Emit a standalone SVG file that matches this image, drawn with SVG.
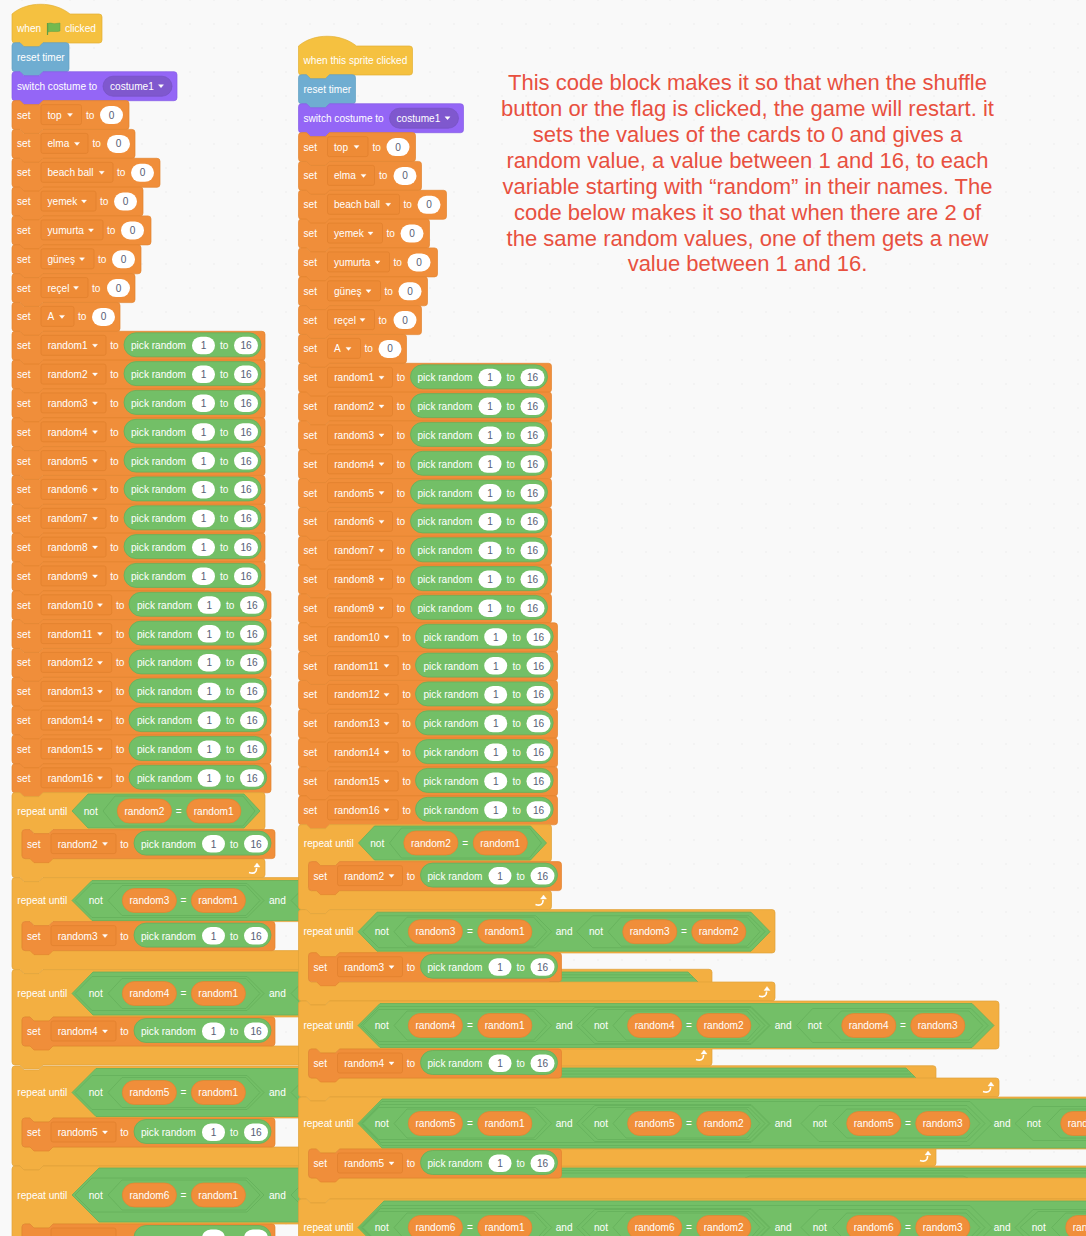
<svg xmlns="http://www.w3.org/2000/svg" width="1086" height="1236" viewBox="0 0 1086 1236">
<style>
text{font-family:"Liberation Sans",Arial,sans-serif;font-size:10.1px;fill:#fff}
.n{fill:#575E75;text-anchor:middle}
.m{text-anchor:middle}
.note{font-size:22px;fill:#E8503F;text-anchor:middle}
.o{fill:#F08E3A;stroke:#E2842F;stroke-width:.7}
.c{fill:#F3AF41;stroke:#E0A239;stroke-width:.7}
.y{fill:#F5C140;stroke:#E3B033;stroke-width:.7}
.b{fill:#6FADD1;stroke:#62A0C3;stroke-width:.7}
.u{fill:#9466F6;stroke:#855CE6;stroke-width:.7}
.pp{fill:#7F58CE;stroke:#7652C2;stroke-width:.7}
.dd{fill:#EE8B36;stroke:#DF7F2D;stroke-width:.7}
.g{fill:#73BF67;stroke:#65B05B;stroke-width:.8}
.gl{fill:none;stroke:#65B05B;stroke-width:.8}
.w{fill:#fff}
.p{fill:#F08E3A;stroke:#E2842F;stroke-width:.7}
.a{fill:#fff;stroke:#fff;stroke-width:.4;stroke-linejoin:round}
.lp{fill:none;stroke:#fff;stroke-width:1.6}
</style>
<defs>
<pattern id="dots" x="0" y="-12" width="24" height="24" patternUnits="userSpaceOnUse"><rect x="21.5" y="11.5" width="1" height="1" fill="#DDD"/></pattern>
<g id="r9"><path class="o" d="M0 3Q0 0 3 0H8l4 4h15l4-4H250q3 0 3 3v23q0 3-3 3H31l-4 4H12l-4-4H3q-3 0-3-3z"/><rect class="dd" x="29" y="4" width="65" height="20" rx="2"/><path class="a" d="M80.5 13h5l-2.5 3z"/><rect class="g" x="112" y="1.5" width="137" height="24" rx="12"/><rect class="w" x="180" y="5.5" width="23" height="17.5" rx="8.75"/><rect class="w" x="222" y="5.5" width="24" height="17.5" rx="8.75"/></g>
<g id="r16"><path class="o" d="M0 3Q0 0 3 0H8l4 4h15l4-4H256q3 0 3 3v23q0 3-3 3H31l-4 4H12l-4-4H3q-3 0-3-3z"/><rect class="dd" x="29" y="4" width="70.7" height="20" rx="2"/><path class="a" d="M85.5 13h5l-2.5 3z"/><rect class="g" x="117" y="1.5" width="137.7" height="24" rx="12"/><rect class="w" x="185.7" y="5.5" width="23" height="17.5" rx="8.75"/><rect class="w" x="228" y="5.5" width="24" height="17.5" rx="8.75"/></g>
<rect id="pl" class="p" x="0" y="-12" width="54.2" height="24" rx="12"/>
<g id="loop"><path class="lp" d="M-5 3.5c3 1 6 .5 7-1.5l.7-3"/><path class="a" d="M3-6l3 4h-6z"/></g>
<path id="hA" class="g" d="M75 0l17-17H247l17 17-17 17H92z"/>
<path id="hE" class="g" d="M108 0l14-15H246l14 15-14 15H122z"/>
<path id="hB" class="g" d="M362.7 0l16-16H535.7l16 16-16 16H378.7z"/>
<path id="hF" class="g" d="M394 0l13-14.5H533.7l13 14.5-13 14.5H407z"/>
<path id="hC" class="g" d="M576.7 0l18-18H751l18 18-18 18H594.7z"/>
<path id="hD" class="g" d="M581.7 0l16-16H749l16 16-16 16H597.7z"/>
<path id="hG" class="g" d="M613 0l13-14.5H747l13 14.5-13 14.5H626z"/>
</defs>
<rect id="workspace" width="1086" height="1236" fill="#F9F9F9"/>
<rect id="grid" width="1086" height="1236" fill="url(#dots)"/>

<g id="left-stack">
<g id="l-hat" transform="translate(12 14)"><path class="y" d="M0 0C15-13 42-13 58 0H87q3 0 3 3v23q0 3-3 3H31l-4 4H12l-4-4H3q-3 0-3-3z"/><text x="5" y="18">when</text><path d="M35.5 9v12" stroke="#5E9F45" stroke-width="1.2"/><path d="M36 9.5c3-1.5 5 1 8 0l4-.5v8c-4 1.5-8-.5-12 1z" fill="#74B94F" stroke="#5E9F45" stroke-width=".5"/><text x="53" y="18">clicked</text></g>
<g id="l-reset" transform="translate(12 42.7)"><path class="b" d="M0 3Q0 0 3 0H8l4 4h15l4-4H54q3 0 3 3v23q0 3-3 3H31l-4 4H12l-4-4H3q-3 0-3-3z"/><text x="5" y="18">reset timer</text></g>
<g id="l-switch" transform="translate(12 71.7)"><path class="u" d="M0 3Q0 0 3 0H8l4 4h15l4-4H162q3 0 3 3v23q0 3-3 3H31l-4 4H12l-4-4H3q-3 0-3-3z"/><text x="5" y="18">switch costume to</text><rect class="pp" x="91" y="4.5" width="69" height="20" rx="10"/><text x="98" y="18">costume1</text><path class="a" d="M146.5 13h5l-2.5 3z"/></g>
<g id="l-top" transform="translate(12 100.6)"><path class="o" d="M0 3Q0 0 3 0H8l4 4h15l4-4H114q3 0 3 3v23q0 3-3 3H31l-4 4H12l-4-4H3q-3 0-3-3z"/><text x="5" y="18">set</text><rect class="dd" x="29" y="4" width="40.5" height="20" rx="2"/><text x="35.5" y="18">top</text><path class="a" d="M55.5 13h5l-2.5 3z"/><text x="74" y="18">to</text><rect class="w" x="88" y="5.5" width="23" height="18" rx="9"/><text class="n" x="99.5" y="18">0</text></g>
<g id="l-elma" transform="translate(12 129.4)"><path class="o" d="M0 3Q0 0 3 0H8l4 4h15l4-4H120q3 0 3 3v23q0 3-3 3H31l-4 4H12l-4-4H3q-3 0-3-3z"/><text x="5" y="18">set</text><rect class="dd" x="29" y="4" width="47" height="20" rx="2"/><text x="35.5" y="18">elma</text><path class="a" d="M62.5 13h5l-2.5 3z"/><text x="80.5" y="18">to</text><rect class="w" x="95" y="5.5" width="23" height="18" rx="9"/><text class="n" x="106.5" y="18">0</text></g>
<g id="l-beach" transform="translate(12 158.3)"><path class="o" d="M0 3Q0 0 3 0H8l4 4h15l4-4H145q3 0 3 3v23q0 3-3 3H31l-4 4H12l-4-4H3q-3 0-3-3z"/><text x="5" y="18">set</text><rect class="dd" x="29" y="4" width="72" height="20" rx="2"/><text x="35.5" y="18">beach ball</text><path class="a" d="M87.2 13h5l-2.5 3z"/><text x="105" y="18">to</text><rect class="w" x="119" y="5.5" width="23" height="18" rx="9"/><text class="n" x="130.5" y="18">0</text></g>
<g id="l-yemek" transform="translate(12 187.1)"><path class="o" d="M0 3Q0 0 3 0H8l4 4h15l4-4H128q3 0 3 3v23q0 3-3 3H31l-4 4H12l-4-4H3q-3 0-3-3z"/><text x="5" y="18">set</text><rect class="dd" x="29" y="4" width="55" height="20" rx="2"/><text x="35.5" y="18">yemek</text><path class="a" d="M69.5 13h5l-2.5 3z"/><text x="88" y="18">to</text><rect class="w" x="102" y="5.5" width="23" height="18" rx="9"/><text class="n" x="113.5" y="18">0</text></g>
<g id="l-yumurta" transform="translate(12 215.9)"><path class="o" d="M0 3Q0 0 3 0H8l4 4h15l4-4H136q3 0 3 3v23q0 3-3 3H31l-4 4H12l-4-4H3q-3 0-3-3z"/><text x="5" y="18">set</text><rect class="dd" x="29" y="4" width="62" height="20" rx="2"/><text x="35.5" y="18">yumurta</text><path class="a" d="M76.5 13h5l-2.5 3z"/><text x="95" y="18">to</text><rect class="w" x="109" y="5.5" width="23" height="18" rx="9"/><text class="n" x="120.5" y="18">0</text></g>
<g id="l-gunes" transform="translate(12 244.8)"><path class="o" d="M0 3Q0 0 3 0H8l4 4h15l4-4H126q3 0 3 3v23q0 3-3 3H31l-4 4H12l-4-4H3q-3 0-3-3z"/><text x="5" y="18">set</text><rect class="dd" x="29" y="4" width="53" height="20" rx="2"/><text x="35.5" y="18">güneş</text><path class="a" d="M67.5 13h5l-2.5 3z"/><text x="86" y="18">to</text><rect class="w" x="100" y="5.5" width="23" height="18" rx="9"/><text class="n" x="111.5" y="18">0</text></g>
<g id="l-recel" transform="translate(12 273.6)"><path class="o" d="M0 3Q0 0 3 0H8l4 4h15l4-4H120q3 0 3 3v23q0 3-3 3H31l-4 4H12l-4-4H3q-3 0-3-3z"/><text x="5" y="18">set</text><rect class="dd" x="29" y="4" width="47" height="20" rx="2"/><text x="35.5" y="18">reçel</text><path class="a" d="M61.5 13h5l-2.5 3z"/><text x="80" y="18">to</text><rect class="w" x="95" y="5.5" width="23" height="18" rx="9"/><text class="n" x="106.5" y="18">0</text></g>
<g id="l-a" transform="translate(12 302.4)"><path class="o" d="M0 3Q0 0 3 0H8l4 4h15l4-4H105q3 0 3 3v23q0 3-3 3H31l-4 4H12l-4-4H3q-3 0-3-3z"/><text x="5" y="18">set</text><rect class="dd" x="29" y="4" width="33" height="20" rx="2"/><text x="35.5" y="18">A</text><path class="a" d="M47.5 13h5l-2.5 3z"/><text x="66" y="18">to</text><rect class="w" x="80" y="5.5" width="23" height="18" rx="9"/><text class="n" x="91.5" y="18">0</text></g>
<g id="l-random1" transform="translate(12 331.3)"><use href="#r9"/><text x="5" y="18">set</text><text x="35.7" y="18">random1</text><text x="98.3" y="18">to</text><text x="119" y="18">pick random</text><text class="n" x="191.5" y="18">1</text><text x="208" y="18">to</text><text class="n" x="234" y="18">16</text></g>
<g id="l-random2" transform="translate(12 360.1)"><use href="#r9"/><text x="5" y="18">set</text><text x="35.7" y="18">random2</text><text x="98.3" y="18">to</text><text x="119" y="18">pick random</text><text class="n" x="191.5" y="18">1</text><text x="208" y="18">to</text><text class="n" x="234" y="18">16</text></g>
<g id="l-random3" transform="translate(12 388.9)"><use href="#r9"/><text x="5" y="18">set</text><text x="35.7" y="18">random3</text><text x="98.3" y="18">to</text><text x="119" y="18">pick random</text><text class="n" x="191.5" y="18">1</text><text x="208" y="18">to</text><text class="n" x="234" y="18">16</text></g>
<g id="l-random4" transform="translate(12 417.8)"><use href="#r9"/><text x="5" y="18">set</text><text x="35.7" y="18">random4</text><text x="98.3" y="18">to</text><text x="119" y="18">pick random</text><text class="n" x="191.5" y="18">1</text><text x="208" y="18">to</text><text class="n" x="234" y="18">16</text></g>
<g id="l-random5" transform="translate(12 446.6)"><use href="#r9"/><text x="5" y="18">set</text><text x="35.7" y="18">random5</text><text x="98.3" y="18">to</text><text x="119" y="18">pick random</text><text class="n" x="191.5" y="18">1</text><text x="208" y="18">to</text><text class="n" x="234" y="18">16</text></g>
<g id="l-random6" transform="translate(12 475.4)"><use href="#r9"/><text x="5" y="18">set</text><text x="35.7" y="18">random6</text><text x="98.3" y="18">to</text><text x="119" y="18">pick random</text><text class="n" x="191.5" y="18">1</text><text x="208" y="18">to</text><text class="n" x="234" y="18">16</text></g>
<g id="l-random7" transform="translate(12 504.3)"><use href="#r9"/><text x="5" y="18">set</text><text x="35.7" y="18">random7</text><text x="98.3" y="18">to</text><text x="119" y="18">pick random</text><text class="n" x="191.5" y="18">1</text><text x="208" y="18">to</text><text class="n" x="234" y="18">16</text></g>
<g id="l-random8" transform="translate(12 533.1)"><use href="#r9"/><text x="5" y="18">set</text><text x="35.7" y="18">random8</text><text x="98.3" y="18">to</text><text x="119" y="18">pick random</text><text class="n" x="191.5" y="18">1</text><text x="208" y="18">to</text><text class="n" x="234" y="18">16</text></g>
<g id="l-random9" transform="translate(12 561.9)"><use href="#r9"/><text x="5" y="18">set</text><text x="35.7" y="18">random9</text><text x="98.3" y="18">to</text><text x="119" y="18">pick random</text><text class="n" x="191.5" y="18">1</text><text x="208" y="18">to</text><text class="n" x="234" y="18">16</text></g>
<g id="l-random10" transform="translate(12 590.8)"><use href="#r16"/><text x="5" y="18">set</text><text x="35.7" y="18">random10</text><text x="104" y="18">to</text><text x="125" y="18">pick random</text><text class="n" x="197.2" y="18">1</text><text x="214" y="18">to</text><text class="n" x="240" y="18">16</text></g>
<g id="l-random11" transform="translate(12 619.6)"><use href="#r16"/><text x="5" y="18">set</text><text x="35.7" y="18">random11</text><text x="104" y="18">to</text><text x="125" y="18">pick random</text><text class="n" x="197.2" y="18">1</text><text x="214" y="18">to</text><text class="n" x="240" y="18">16</text></g>
<g id="l-random12" transform="translate(12 648.4)"><use href="#r16"/><text x="5" y="18">set</text><text x="35.7" y="18">random12</text><text x="104" y="18">to</text><text x="125" y="18">pick random</text><text class="n" x="197.2" y="18">1</text><text x="214" y="18">to</text><text class="n" x="240" y="18">16</text></g>
<g id="l-random13" transform="translate(12 677.3)"><use href="#r16"/><text x="5" y="18">set</text><text x="35.7" y="18">random13</text><text x="104" y="18">to</text><text x="125" y="18">pick random</text><text class="n" x="197.2" y="18">1</text><text x="214" y="18">to</text><text class="n" x="240" y="18">16</text></g>
<g id="l-random14" transform="translate(12 706.1)"><use href="#r16"/><text x="5" y="18">set</text><text x="35.7" y="18">random14</text><text x="104" y="18">to</text><text x="125" y="18">pick random</text><text class="n" x="197.2" y="18">1</text><text x="214" y="18">to</text><text class="n" x="240" y="18">16</text></g>
<g id="l-random15" transform="translate(12 734.9)"><use href="#r16"/><text x="5" y="18">set</text><text x="35.7" y="18">random15</text><text x="104" y="18">to</text><text x="125" y="18">pick random</text><text class="n" x="197.2" y="18">1</text><text x="214" y="18">to</text><text class="n" x="240" y="18">16</text></g>
<g id="l-random16" transform="translate(12 763.8)"><use href="#r16"/><text x="5" y="18">set</text><text x="35.7" y="18">random16</text><text x="104" y="18">to</text><text x="125" y="18">pick random</text><text class="n" x="197.2" y="18">1</text><text x="214" y="18">to</text><text class="n" x="240" y="18">16</text></g>

<g id="l-repeat2">
<path class="c" transform="translate(12 792.6)" d="M0 3Q0 0 3 0H8l4 4h15l4-4H250q3 0 3 3v31q0 3-3 3H41l-4 4H22l-4-4H13q-3 0-3 3v23q0 3 3 3H250q3 0 3 3v13q0 3-3 3H31l-4 4H12l-4-4H3q-3 0-3-3z"/>
<use href="#loop" x="254" y="869"/>
<g transform="translate(0 811)"><path class="g" d="M72 0l16-17H244l16 17-16 17H88z"/><path class="g" d="M103 0l12-15H243l12 15-12 15H115z"/><text x="17.3" y="3.5">repeat until</text><text x="83.7" y="3.5">not</text><use href="#pl" x="117.3"/><text x="124.5" y="3.5">random2</text><text class="m" x="178.7" y="3.5">=</text><use href="#pl" x="186.7"/><text x="193.7" y="3.5">random1</text></g>
<g transform="translate(22 829.6)"><use href="#r9"/><text x="5" y="18">set</text><text x="35.7" y="18">random2</text><text x="98.3" y="18">to</text><text x="119" y="18">pick random</text><text class="n" x="191.5" y="18">1</text><text x="208" y="18">to</text><text class="n" x="234" y="18">16</text></g>
</g>

<g id="l-repeat3">
<path class="c" transform="translate(12 877.6)" d="M0 3Q0 0 3 0H8l4 4h15l4-4H292v44H41l-4 4H22l-4-4H13q-3 0-3 3v23q0 3 3 3H292v19H31l-4 4H12l-4-4H3q-3 0-3-3z"/>
<g transform="translate(0 900.5)"><path class="g" d="M72 0l20-20H304v40H92z"/><use href="#hA"/><use href="#hE"/><path class="g" d="M291 0l13-13v26z"/><text x="17.3" y="3.5">repeat until</text><text x="88.7" y="3.5">not</text><use href="#pl" x="122.3"/><text x="129.5" y="3.5">random3</text><text class="m" x="183.5" y="3.5">=</text><use href="#pl" x="191.3"/><text x="198.3" y="3.5">random1</text><text x="269" y="3.5">and</text></g>
<g transform="translate(22 921.6)"><use href="#r9"/><text x="5" y="18">set</text><text x="35.7" y="18">random3</text><text x="98.3" y="18">to</text><text x="119" y="18">pick random</text><text class="n" x="191.5" y="18">1</text><text x="208" y="18">to</text><text class="n" x="234" y="18">16</text></g>
</g>

<g id="l-repeat4">
<path class="c" transform="translate(12 969.6)" d="M0 3Q0 0 3 0H8l4 4h15l4-4H292v47.4H41l-4 4H22l-4-4H13q-3 0-3 3v23q0 3 3 3H292v19H31l-4 4H12l-4-4H3q-3 0-3-3z"/>
<g transform="translate(0 993.5)"><path class="g" d="M72 0l21-21.5H304v43H93z"/><use href="#hA"/><use href="#hE"/><path class="g" d="M291 0l13-13v26z"/><text x="17.3" y="3.5">repeat until</text><text x="88.7" y="3.5">not</text><use href="#pl" x="122.3"/><text x="129.5" y="3.5">random4</text><text class="m" x="183.5" y="3.5">=</text><use href="#pl" x="191.3"/><text x="198.3" y="3.5">random1</text><text x="269" y="3.5">and</text></g>
<g transform="translate(22 1017)"><use href="#r9"/><text x="5" y="18">set</text><text x="35.7" y="18">random4</text><text x="98.3" y="18">to</text><text x="119" y="18">pick random</text><text class="n" x="191.5" y="18">1</text><text x="208" y="18">to</text><text class="n" x="234" y="18">16</text></g>
</g>

<g id="l-repeat5">
<path class="c" transform="translate(12 1066)" d="M0 3Q0 0 3 0H8l4 4h15l4-4H292v52H41l-4 4H22l-4-4H13q-3 0-3 3v23q0 3 3 3H292v19H31l-4 4H12l-4-4H3q-3 0-3-3z"/>
<g transform="translate(0 1092.5)"><path class="g" d="M72 0l24-24H304v48H96z"/><use href="#hA"/><use href="#hE"/><path class="g" d="M291 0l13-13v26z"/><text x="17.3" y="3.5">repeat until</text><text x="88.7" y="3.5">not</text><use href="#pl" x="122.3"/><text x="129.5" y="3.5">random5</text><text class="m" x="183.5" y="3.5">=</text><use href="#pl" x="191.3"/><text x="198.3" y="3.5">random1</text><text x="269" y="3.5">and</text></g>
<g transform="translate(22 1118)"><use href="#r9"/><text x="5" y="18">set</text><text x="35.7" y="18">random5</text><text x="98.3" y="18">to</text><text x="119" y="18">pick random</text><text class="n" x="191.5" y="18">1</text><text x="208" y="18">to</text><text class="n" x="234" y="18">16</text></g>
</g>

<g id="l-repeat6">
<path class="c" transform="translate(12 1166)" d="M0 3Q0 0 3 0H8l4 4h15l4-4H292v58H41l-4 4H22l-4-4H13q-3 0-3 3v23H0z"/>
<g transform="translate(0 1195)"><path class="g" d="M72 0l27-27H304v54H99z"/><use href="#hA"/><use href="#hE"/><path class="g" d="M291 0l13-13v26z"/><text x="17.3" y="3.5">repeat until</text><text x="88.7" y="3.5">not</text><use href="#pl" x="122.3"/><text x="129.5" y="3.5">random6</text><text class="m" x="183.5" y="3.5">=</text><use href="#pl" x="191.3"/><text x="198.3" y="3.5">random1</text><text x="269" y="3.5">and</text></g>
<g transform="translate(22 1224)"><use href="#r9"/></g>
</g>
</g>

<g id="right-stack">
<g id="r-hat" transform="translate(298.5 46)"><path class="y" d="M0 0C15-13 42-13 58 0H111q3 0 3 3v23q0 3-3 3H31l-4 4H12l-4-4H3q-3 0-3-3z"/><text x="5" y="18">when this sprite clicked</text></g>
<g id="r-reset" transform="translate(298.5 74.7)"><path class="b" d="M0 3Q0 0 3 0H8l4 4h15l4-4H54q3 0 3 3v23q0 3-3 3H31l-4 4H12l-4-4H3q-3 0-3-3z"/><text x="5" y="18">reset timer</text></g>
<g id="r-switch" transform="translate(298.5 103.7)"><path class="u" d="M0 3Q0 0 3 0H8l4 4h15l4-4H162q3 0 3 3v23q0 3-3 3H31l-4 4H12l-4-4H3q-3 0-3-3z"/><text x="5" y="18">switch costume to</text><rect class="pp" x="91" y="4.5" width="69" height="20" rx="10"/><text x="98" y="18">costume1</text><path class="a" d="M146.5 13h5l-2.5 3z"/></g>
<g id="r-top" transform="translate(298.5 132.6)"><path class="o" d="M0 3Q0 0 3 0H8l4 4h15l4-4H114q3 0 3 3v23q0 3-3 3H31l-4 4H12l-4-4H3q-3 0-3-3z"/><text x="5" y="18">set</text><rect class="dd" x="29" y="4" width="40.5" height="20" rx="2"/><text x="35.5" y="18">top</text><path class="a" d="M55.5 13h5l-2.5 3z"/><text x="74" y="18">to</text><rect class="w" x="88" y="5.5" width="23" height="18" rx="9"/><text class="n" x="99.5" y="18">0</text></g>
<g id="r-elma" transform="translate(298.5 161.4)"><path class="o" d="M0 3Q0 0 3 0H8l4 4h15l4-4H120q3 0 3 3v23q0 3-3 3H31l-4 4H12l-4-4H3q-3 0-3-3z"/><text x="5" y="18">set</text><rect class="dd" x="29" y="4" width="47" height="20" rx="2"/><text x="35.5" y="18">elma</text><path class="a" d="M62.5 13h5l-2.5 3z"/><text x="80.5" y="18">to</text><rect class="w" x="95" y="5.5" width="23" height="18" rx="9"/><text class="n" x="106.5" y="18">0</text></g>
<g id="r-beach" transform="translate(298.5 190.3)"><path class="o" d="M0 3Q0 0 3 0H8l4 4h15l4-4H145q3 0 3 3v23q0 3-3 3H31l-4 4H12l-4-4H3q-3 0-3-3z"/><text x="5" y="18">set</text><rect class="dd" x="29" y="4" width="72" height="20" rx="2"/><text x="35.5" y="18">beach ball</text><path class="a" d="M87.2 13h5l-2.5 3z"/><text x="105" y="18">to</text><rect class="w" x="119" y="5.5" width="23" height="18" rx="9"/><text class="n" x="130.5" y="18">0</text></g>
<g id="r-yemek" transform="translate(298.5 219.1)"><path class="o" d="M0 3Q0 0 3 0H8l4 4h15l4-4H128q3 0 3 3v23q0 3-3 3H31l-4 4H12l-4-4H3q-3 0-3-3z"/><text x="5" y="18">set</text><rect class="dd" x="29" y="4" width="55" height="20" rx="2"/><text x="35.5" y="18">yemek</text><path class="a" d="M69.5 13h5l-2.5 3z"/><text x="88" y="18">to</text><rect class="w" x="102" y="5.5" width="23" height="18" rx="9"/><text class="n" x="113.5" y="18">0</text></g>
<g id="r-yumurta" transform="translate(298.5 247.9)"><path class="o" d="M0 3Q0 0 3 0H8l4 4h15l4-4H136q3 0 3 3v23q0 3-3 3H31l-4 4H12l-4-4H3q-3 0-3-3z"/><text x="5" y="18">set</text><rect class="dd" x="29" y="4" width="62" height="20" rx="2"/><text x="35.5" y="18">yumurta</text><path class="a" d="M76.5 13h5l-2.5 3z"/><text x="95" y="18">to</text><rect class="w" x="109" y="5.5" width="23" height="18" rx="9"/><text class="n" x="120.5" y="18">0</text></g>
<g id="r-gunes" transform="translate(298.5 276.8)"><path class="o" d="M0 3Q0 0 3 0H8l4 4h15l4-4H126q3 0 3 3v23q0 3-3 3H31l-4 4H12l-4-4H3q-3 0-3-3z"/><text x="5" y="18">set</text><rect class="dd" x="29" y="4" width="53" height="20" rx="2"/><text x="35.5" y="18">güneş</text><path class="a" d="M67.5 13h5l-2.5 3z"/><text x="86" y="18">to</text><rect class="w" x="100" y="5.5" width="23" height="18" rx="9"/><text class="n" x="111.5" y="18">0</text></g>
<g id="r-recel" transform="translate(298.5 305.6)"><path class="o" d="M0 3Q0 0 3 0H8l4 4h15l4-4H120q3 0 3 3v23q0 3-3 3H31l-4 4H12l-4-4H3q-3 0-3-3z"/><text x="5" y="18">set</text><rect class="dd" x="29" y="4" width="47" height="20" rx="2"/><text x="35.5" y="18">reçel</text><path class="a" d="M61.5 13h5l-2.5 3z"/><text x="80" y="18">to</text><rect class="w" x="95" y="5.5" width="23" height="18" rx="9"/><text class="n" x="106.5" y="18">0</text></g>
<g id="r-a" transform="translate(298.5 334.4)"><path class="o" d="M0 3Q0 0 3 0H8l4 4h15l4-4H105q3 0 3 3v23q0 3-3 3H31l-4 4H12l-4-4H3q-3 0-3-3z"/><text x="5" y="18">set</text><rect class="dd" x="29" y="4" width="33" height="20" rx="2"/><text x="35.5" y="18">A</text><path class="a" d="M47.5 13h5l-2.5 3z"/><text x="66" y="18">to</text><rect class="w" x="80" y="5.5" width="23" height="18" rx="9"/><text class="n" x="91.5" y="18">0</text></g>
<g id="r-random1" transform="translate(298.5 363.3)"><use href="#r9"/><text x="5" y="18">set</text><text x="35.7" y="18">random1</text><text x="98.3" y="18">to</text><text x="119" y="18">pick random</text><text class="n" x="191.5" y="18">1</text><text x="208" y="18">to</text><text class="n" x="234" y="18">16</text></g>
<g id="r-random2" transform="translate(298.5 392.1)"><use href="#r9"/><text x="5" y="18">set</text><text x="35.7" y="18">random2</text><text x="98.3" y="18">to</text><text x="119" y="18">pick random</text><text class="n" x="191.5" y="18">1</text><text x="208" y="18">to</text><text class="n" x="234" y="18">16</text></g>
<g id="r-random3" transform="translate(298.5 420.9)"><use href="#r9"/><text x="5" y="18">set</text><text x="35.7" y="18">random3</text><text x="98.3" y="18">to</text><text x="119" y="18">pick random</text><text class="n" x="191.5" y="18">1</text><text x="208" y="18">to</text><text class="n" x="234" y="18">16</text></g>
<g id="r-random4" transform="translate(298.5 449.8)"><use href="#r9"/><text x="5" y="18">set</text><text x="35.7" y="18">random4</text><text x="98.3" y="18">to</text><text x="119" y="18">pick random</text><text class="n" x="191.5" y="18">1</text><text x="208" y="18">to</text><text class="n" x="234" y="18">16</text></g>
<g id="r-random5" transform="translate(298.5 478.6)"><use href="#r9"/><text x="5" y="18">set</text><text x="35.7" y="18">random5</text><text x="98.3" y="18">to</text><text x="119" y="18">pick random</text><text class="n" x="191.5" y="18">1</text><text x="208" y="18">to</text><text class="n" x="234" y="18">16</text></g>
<g id="r-random6" transform="translate(298.5 507.4)"><use href="#r9"/><text x="5" y="18">set</text><text x="35.7" y="18">random6</text><text x="98.3" y="18">to</text><text x="119" y="18">pick random</text><text class="n" x="191.5" y="18">1</text><text x="208" y="18">to</text><text class="n" x="234" y="18">16</text></g>
<g id="r-random7" transform="translate(298.5 536.3)"><use href="#r9"/><text x="5" y="18">set</text><text x="35.7" y="18">random7</text><text x="98.3" y="18">to</text><text x="119" y="18">pick random</text><text class="n" x="191.5" y="18">1</text><text x="208" y="18">to</text><text class="n" x="234" y="18">16</text></g>
<g id="r-random8" transform="translate(298.5 565.1)"><use href="#r9"/><text x="5" y="18">set</text><text x="35.7" y="18">random8</text><text x="98.3" y="18">to</text><text x="119" y="18">pick random</text><text class="n" x="191.5" y="18">1</text><text x="208" y="18">to</text><text class="n" x="234" y="18">16</text></g>
<g id="r-random9" transform="translate(298.5 593.9)"><use href="#r9"/><text x="5" y="18">set</text><text x="35.7" y="18">random9</text><text x="98.3" y="18">to</text><text x="119" y="18">pick random</text><text class="n" x="191.5" y="18">1</text><text x="208" y="18">to</text><text class="n" x="234" y="18">16</text></g>
<g id="r-random10" transform="translate(298.5 622.8)"><use href="#r16"/><text x="5" y="18">set</text><text x="35.7" y="18">random10</text><text x="104" y="18">to</text><text x="125" y="18">pick random</text><text class="n" x="197.2" y="18">1</text><text x="214" y="18">to</text><text class="n" x="240" y="18">16</text></g>
<g id="r-random11" transform="translate(298.5 651.6)"><use href="#r16"/><text x="5" y="18">set</text><text x="35.7" y="18">random11</text><text x="104" y="18">to</text><text x="125" y="18">pick random</text><text class="n" x="197.2" y="18">1</text><text x="214" y="18">to</text><text class="n" x="240" y="18">16</text></g>
<g id="r-random12" transform="translate(298.5 680.4)"><use href="#r16"/><text x="5" y="18">set</text><text x="35.7" y="18">random12</text><text x="104" y="18">to</text><text x="125" y="18">pick random</text><text class="n" x="197.2" y="18">1</text><text x="214" y="18">to</text><text class="n" x="240" y="18">16</text></g>
<g id="r-random13" transform="translate(298.5 709.3)"><use href="#r16"/><text x="5" y="18">set</text><text x="35.7" y="18">random13</text><text x="104" y="18">to</text><text x="125" y="18">pick random</text><text class="n" x="197.2" y="18">1</text><text x="214" y="18">to</text><text class="n" x="240" y="18">16</text></g>
<g id="r-random14" transform="translate(298.5 738.1)"><use href="#r16"/><text x="5" y="18">set</text><text x="35.7" y="18">random14</text><text x="104" y="18">to</text><text x="125" y="18">pick random</text><text class="n" x="197.2" y="18">1</text><text x="214" y="18">to</text><text class="n" x="240" y="18">16</text></g>
<g id="r-random15" transform="translate(298.5 766.9)"><use href="#r16"/><text x="5" y="18">set</text><text x="35.7" y="18">random15</text><text x="104" y="18">to</text><text x="125" y="18">pick random</text><text class="n" x="197.2" y="18">1</text><text x="214" y="18">to</text><text class="n" x="240" y="18">16</text></g>
<g id="r-random16" transform="translate(298.5 795.8)"><use href="#r16"/><text x="5" y="18">set</text><text x="35.7" y="18">random16</text><text x="104" y="18">to</text><text x="125" y="18">pick random</text><text class="n" x="197.2" y="18">1</text><text x="214" y="18">to</text><text class="n" x="240" y="18">16</text></g>

<g id="r-repeat2">
<path class="c" transform="translate(298.5 824.6)" d="M0 3Q0 0 3 0H8l4 4h15l4-4H250q3 0 3 3v31q0 3-3 3H41l-4 4H22l-4-4H13q-3 0-3 3v23q0 3 3 3H250q3 0 3 3v13q0 3-3 3H31l-4 4H12l-4-4H3q-3 0-3-3z"/>
<use href="#loop" x="540.5" y="901"/>
<g transform="translate(0 843)"><path class="g" d="M358.5 0l16-17H530.5l16 17-16 17H374.5z"/><path class="g" d="M389.5 0l12-15H529.5l12 15-12 15H401.5z"/><text x="303.8" y="3.5">repeat until</text><text x="370.2" y="3.5">not</text><use href="#pl" x="403.8"/><text x="411" y="3.5">random2</text><text class="m" x="465.2" y="3.5">=</text><use href="#pl" x="473.2"/><text x="480.2" y="3.5">random1</text></g>
<g transform="translate(308.5 861.6)"><use href="#r9"/><text x="5" y="18">set</text><text x="35.7" y="18">random2</text><text x="98.3" y="18">to</text><text x="119" y="18">pick random</text><text class="n" x="191.5" y="18">1</text><text x="208" y="18">to</text><text class="n" x="234" y="18">16</text></g>
</g>

<g id="r-hidden1"><path class="c" d="M550 969.3H709q3 0 3 3V990H550z"/><path class="g" d="M550 972H688l14 14H550z"/><path class="gl" d="M550 974.8H690M550 977.6H693"/></g>

<g id="r-repeat3">
<path class="c" transform="translate(298.5 909.6)" d="M0 3Q0 0 3 0H8l4 4h15l4-4H473.5q3 0 3 3v37.4q0 3-3 3H41l-4 4H22l-4-4H13q-3 0-3 3v23q0 3 3 3H473.5q3 0 3 3v13q0 3-3 3H31l-4 4H12l-4-4H3q-3 0-3-3z"/>
<use href="#loop" x="764" y="992.5"/>
<g transform="translate(0 931.7)"><path class="g" d="M358 0l19-19.5H751l19 19.5-19 19.5H377z"/><use href="#hB"/><use href="#hF"/><path class="g" d="M576.7 0l16-16H749l16 16-16 16H592.7z"/><path class="g" d="M608 0l13-14.5H747l13 14.5-13 14.5H621z"/><text x="303.5" y="3.5">repeat until</text><text x="374.7" y="3.5">not</text><use href="#pl" x="408.3"/><text x="415.5" y="3.5">random3</text><text class="m" x="470" y="3.5">=</text><use href="#pl" x="477.7"/><text x="484.7" y="3.5">random1</text><text x="555.7" y="3.5">and</text><text x="589" y="3.5">not</text><use href="#pl" x="622.7"/><text x="629.7" y="3.5">random3</text><text class="m" x="684" y="3.5">=</text><use href="#pl" x="691.7"/><text x="698.7" y="3.5">random2</text></g>
<g transform="translate(308.5 952.7)"><use href="#r9"/><text x="5" y="18">set</text><text x="35.7" y="18">random3</text><text x="98.3" y="18">to</text><text x="119" y="18">pick random</text><text class="n" x="191.5" y="18">1</text><text x="208" y="18">to</text><text class="n" x="234" y="18">16</text></g>
</g>

<g id="r-hidden2"><path class="c" d="M550 1065.7H933q3 0 3 3V1085H550z"/><path class="g" d="M550 1068H906l17 17H550z"/><path class="gl" d="M550 1071H908M550 1074H911M550 1077H914M743 1083l7-4H905"/><path class="c" d="M550 1040H709q3 0 3 3v19.7q0 3-3 3H550z"/><use href="#loop" x="701" y="1056"/></g>

<g id="r-repeat4">
<path class="c" transform="translate(298.5 1001)" d="M0 3Q0 0 3 0H8l4 4h15l4-4H697.5q3 0 3 3v42q0 3-3 3H41l-4 4H22l-4-4H13q-3 0-3 3v23q0 3 3 3H697.5q3 0 3 3v13q0 3-3 3H31l-4 4H12l-4-4H3q-3 0-3-3z"/>
<use href="#loop" x="988" y="1088"/>
<g transform="translate(0 1025.5)"><path class="g" d="M358 0l22-22H972l22 22-22 22H380z"/><path class="g" d="M360.5 0l19-19H751l19 19-19 19H379.5z"/><use href="#hB"/><use href="#hF"/><use href="#hC"/><use href="#hD"/><use href="#hG"/><path class="g" d="M796.7 0l16-17H971l17 17-17 17H812.7z"/><path class="g" d="M827.3 0l14-14.5H969l14 14.5-14 14.5H841.3z"/><text x="303.5" y="3.5">repeat until</text><text x="374.7" y="3.5">not</text><use href="#pl" x="408.3"/><text x="415.5" y="3.5">random4</text><text class="m" x="470" y="3.5">=</text><use href="#pl" x="477.7"/><text x="484.7" y="3.5">random1</text><text x="555.7" y="3.5">and</text><text x="594" y="3.5">not</text><use href="#pl" x="627.6"/><text x="634.7" y="3.5">random4</text><text class="m" x="689" y="3.5">=</text><use href="#pl" x="696.7"/><text x="703.7" y="3.5">random2</text><text x="774.7" y="3.5">and</text><text x="807.7" y="3.5">not</text><use href="#pl" x="841.7"/><text x="848.7" y="3.5">random4</text><text class="m" x="903" y="3.5">=</text><use href="#pl" x="910.7"/><text x="917.7" y="3.5">random3</text></g>
<g transform="translate(308.5 1049)"><use href="#r9"/><text x="5" y="18">set</text><text x="35.7" y="18">random4</text><text x="98.3" y="18">to</text><text x="119" y="18">pick random</text><text class="n" x="191.5" y="18">1</text><text x="208" y="18">to</text><text class="n" x="234" y="18">16</text></g>
</g>

<g id="r-hidden3"><path class="c" d="M550 1166H1100V1185H550z"/><path class="g" d="M550 1168H1100V1185H550z"/><path class="gl" d="M550 1170.5H1100M550 1173H1100M745 1178l5-2H963l5 2"/><path class="c" d="M550 1140H933q3 0 3 3v20q0 3-3 3H550z"/><use href="#loop" x="925" y="1157"/></g>

<g id="r-repeat5">
<path class="c" transform="translate(298.5 1097)" d="M0 3Q0 0 3 0H8l4 4h15l4-4H800v52H41l-4 4H22l-4-4H13q-3 0-3 3v23q0 3 3 3H800v21H31l-4 4H12l-4-4H3q-3 0-3-3z"/>
<g transform="translate(0 1123.5)"><path class="g" d="M358 0l24-24.5H1100v49H382z"/><path class="g" d="M360 0l22-22H970l22 22-22 22H382z"/><path class="g" d="M361.5 0l19-19H751l19 19-19 19H380.5z"/><use href="#hB"/><use href="#hF"/><use href="#hC"/><use href="#hD"/><use href="#hG"/><path class="g" d="M801 0l18-18H967l18 18-18 18H819z"/><path class="g" d="M832.7 0l14-14.5H966l14 14.5-14 14.5H846.7z"/><path class="g" d="M1015 0l18-17H1100v34H1033z"/><path class="g" d="M1046.7 0l14-14.5H1100v29H1060.7z"/><text x="303.5" y="3.5">repeat until</text><text x="374.7" y="3.5">not</text><use href="#pl" x="408.3"/><text x="415.5" y="3.5">random5</text><text class="m" x="470" y="3.5">=</text><use href="#pl" x="477.7"/><text x="484.7" y="3.5">random1</text><text x="555.7" y="3.5">and</text><text x="594" y="3.5">not</text><use href="#pl" x="627.6"/><text x="634.7" y="3.5">random5</text><text class="m" x="689" y="3.5">=</text><use href="#pl" x="696.7"/><text x="703.7" y="3.5">random2</text><text x="774.7" y="3.5">and</text><text x="812.7" y="3.5">not</text><use href="#pl" x="846.7"/><text x="853.7" y="3.5">random5</text><text class="m" x="908" y="3.5">=</text><use href="#pl" x="915.7"/><text x="922.7" y="3.5">random3</text><text x="993.7" y="3.5">and</text><text x="1026.7" y="3.5">not</text><use href="#pl" x="1060.7"/><text x="1067.7" y="3.5">random5</text></g>
<g transform="translate(308.5 1149)"><use href="#r9"/><text x="5" y="18">set</text><text x="35.7" y="18">random5</text><text x="98.3" y="18">to</text><text x="119" y="18">pick random</text><text class="n" x="191.5" y="18">1</text><text x="208" y="18">to</text><text class="n" x="234" y="18">16</text></g>
</g>

<g id="r-repeat6">
<path class="c" transform="translate(298.5 1199)" d="M0 3Q0 0 3 0H8l4 4h15l4-4H800V50H0z"/>
<g transform="translate(0 1227.5)"><path class="g" d="M358 0l26-26.5H1100v53H384z"/><path class="g" d="M360 0l22-22H970l22 22-22 22H382z"/><path class="g" d="M361.5 0l19-19H751l19 19-19 19H380.5z"/><use href="#hB"/><use href="#hF"/><use href="#hC"/><use href="#hD"/><use href="#hG"/><path class="g" d="M801 0l18-18H967l18 18-18 18H819z"/><path class="g" d="M832.7 0l14-14.5H966l14 14.5-14 14.5H846.7z"/><path class="g" d="M1015 0l18-18H1100v36H1033z"/><path class="g" d="M1020 0l18-16H1100v32H1038z"/><path class="g" d="M1051.7 0l14-14.5H1100v29H1065.7z"/><text x="303.5" y="3.5">repeat until</text><text x="374.7" y="3.5">not</text><use href="#pl" x="408.3"/><text x="415.5" y="3.5">random6</text><text class="m" x="470" y="3.5">=</text><use href="#pl" x="477.7"/><text x="484.7" y="3.5">random1</text><text x="555.7" y="3.5">and</text><text x="594" y="3.5">not</text><use href="#pl" x="627.6"/><text x="634.7" y="3.5">random6</text><text class="m" x="689" y="3.5">=</text><use href="#pl" x="696.7"/><text x="703.7" y="3.5">random2</text><text x="774.7" y="3.5">and</text><text x="812.7" y="3.5">not</text><use href="#pl" x="846.7"/><text x="853.7" y="3.5">random6</text><text class="m" x="908" y="3.5">=</text><use href="#pl" x="915.7"/><text x="922.7" y="3.5">random3</text><text x="993.7" y="3.5">and</text><text x="1031.7" y="3.5">not</text><use href="#pl" x="1065.7"/><text x="1072.7" y="3.5">random6</text></g>
</g>
</g>

<g id="note">
<text class="note" x="747.5" y="90">This code block makes it so that when the shuffle</text>
<text class="note" x="747.5" y="116">button or the flag is clicked, the game will restart. it</text>
<text class="note" x="747.5" y="142">sets the values of the cards to 0 and gives a</text>
<text class="note" x="747.5" y="168">random value, a value between 1 and 16, to each</text>
<text class="note" x="747.5" y="194">variable starting with “random” in their names. The</text>
<text class="note" x="747.5" y="219.5">code below makes it so that when there are 2 of</text>
<text class="note" x="747.5" y="245.5">the same random values, one of them gets a new</text>
<text class="note" x="747.5" y="271">value between 1 and 16.</text>
</g>
</svg>
